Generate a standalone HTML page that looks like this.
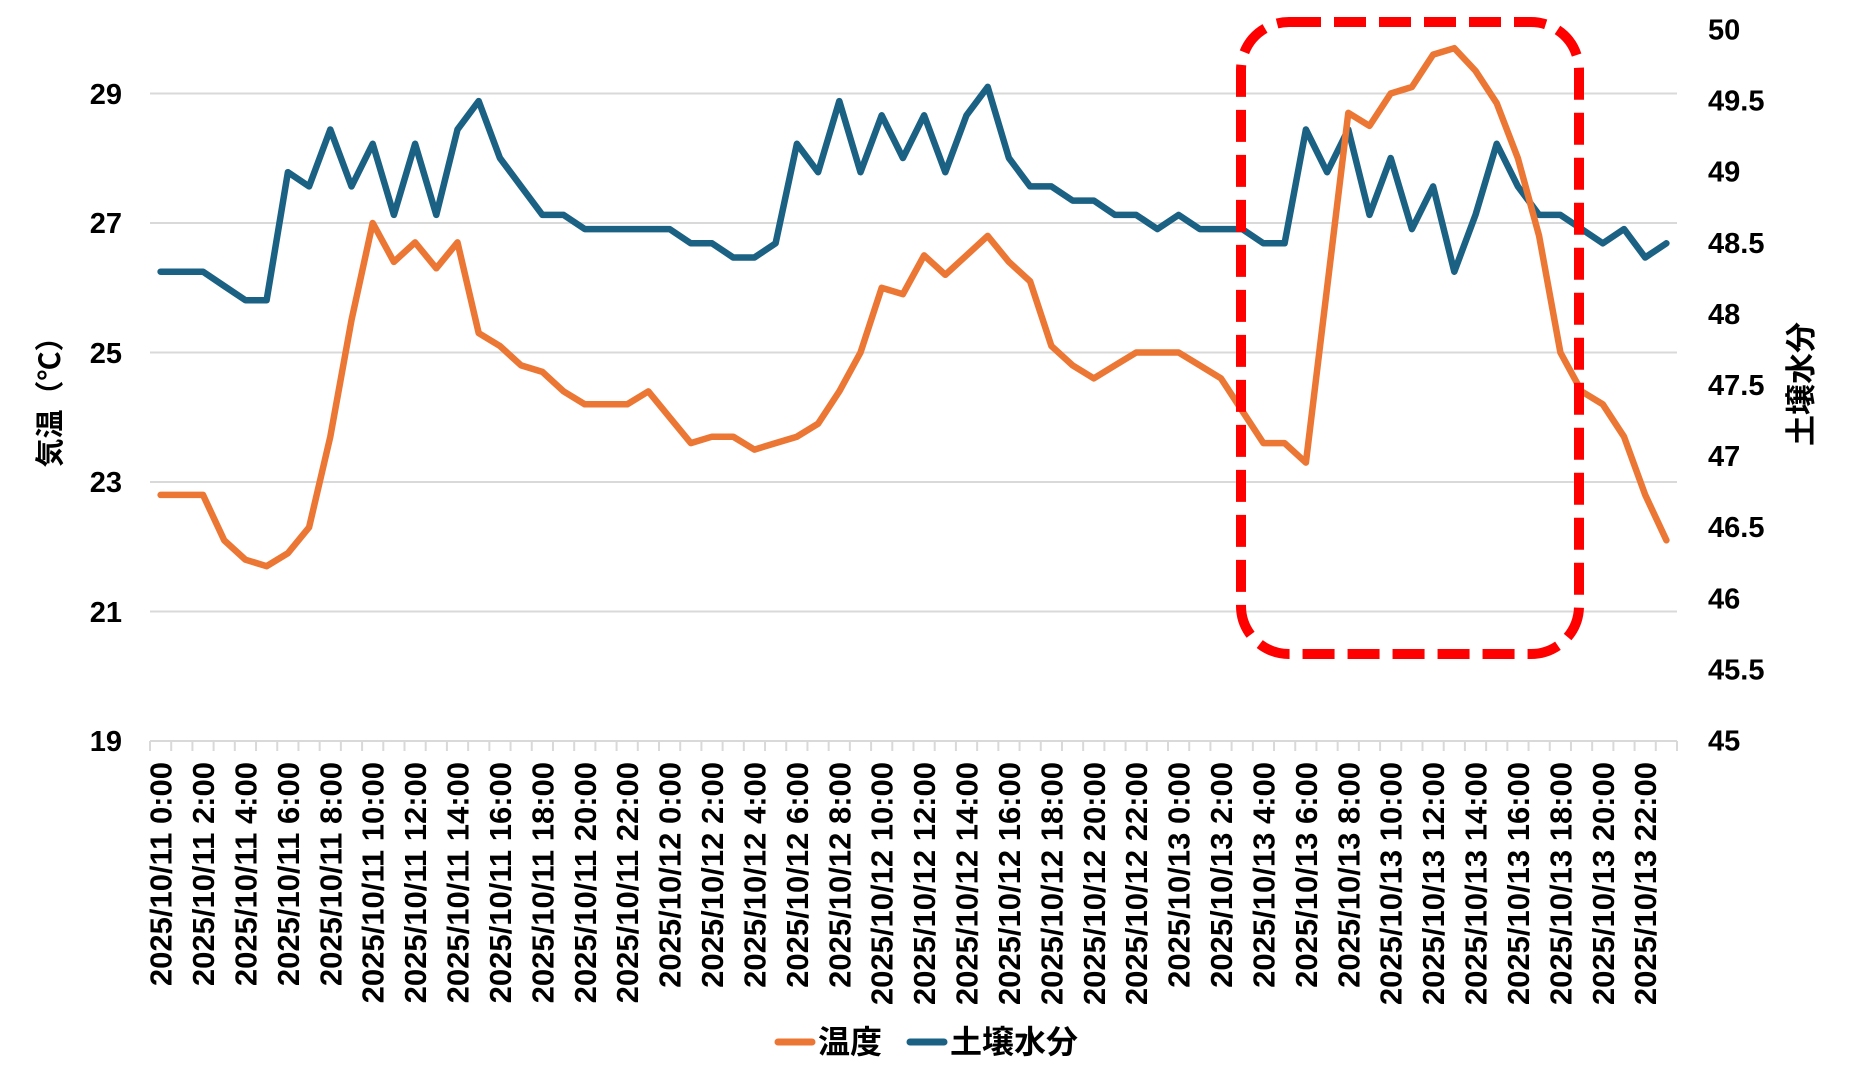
<!DOCTYPE html>
<html><head><meta charset="utf-8"><style>
html,body{margin:0;padding:0;background:#fff;}
svg text{font-family:"Liberation Sans","Noto Sans CJK JP",sans-serif;}
</style></head><body>
<svg id="c" width="1854" height="1080" viewBox="0 0 1854 1080" xmlns="http://www.w3.org/2000/svg">
<g stroke="#d9d9d9" stroke-width="2">
<line x1="150" y1="93.5" x2="1677" y2="93.5"/>
<line x1="150" y1="223" x2="1677" y2="223"/>
<line x1="150" y1="352.5" x2="1677" y2="352.5"/>
<line x1="150" y1="482" x2="1677" y2="482"/>
<line x1="150" y1="611.5" x2="1677" y2="611.5"/>
<line x1="150" y1="741" x2="1677" y2="741"/>
</g>
<g id="ticks" stroke="#d9d9d9" stroke-width="2"></g>
<g font-size="29" font-weight="bold" fill="#000" text-anchor="end">
<text x="122" y="104">29</text><text x="122" y="233">27</text><text x="122" y="363">25</text>
<text x="122" y="492">23</text><text x="122" y="622">21</text><text x="122" y="751">19</text>
</g>
<g id="rlab" font-size="29" font-weight="bold" fill="#000" text-anchor="start"></g>
<text transform="translate(60,395) rotate(-90)" font-size="29" font-weight="bold" text-anchor="middle" fill="#000">気温（℃）</text>
<text transform="translate(1812,384) rotate(-90)" font-size="31" font-weight="bold" text-anchor="middle" fill="#000">土壌水分</text>
<g id="xlab" font-size="31" font-weight="bold" fill="#000" text-anchor="end"></g>
<polyline id="mo" fill="none" stroke="#1a6184" stroke-width="6.5" stroke-linejoin="round" stroke-linecap="round"/>
<polyline id="te" fill="none" stroke="#ec7634" stroke-width="6.5" stroke-linejoin="round" stroke-linecap="round"/>
<rect x="1241" y="22" width="338" height="632" rx="48" ry="48" fill="none" stroke="#ff0000" stroke-width="10" stroke-dasharray="32 13"/>
<line x1="778" y1="1042" x2="812" y2="1042" stroke="#ec7634" stroke-width="7" stroke-linecap="round"/>
<text x="818" y="1053" font-size="32" font-weight="bold" fill="#000">温度</text>
<line x1="910" y1="1042" x2="944" y2="1042" stroke="#1a6184" stroke-width="7" stroke-linecap="round"/>
<text x="950" y="1053" font-size="32" font-weight="bold" fill="#000">土壌水分</text>
</svg>
<script>
var T=[22.8,22.8,22.8,22.1,21.8,21.7,21.9,22.3,23.7,25.5,27.0,26.4,26.7,26.3,26.7,25.3,25.1,24.8,24.7,24.4,24.2,24.2,24.2,24.4,24.0,23.6,23.7,23.7,23.5,23.6,23.7,23.9,24.4,25.0,26.0,25.9,26.5,26.2,26.5,26.8,26.4,26.1,25.1,24.8,24.6,24.8,25.0,25.0,25.0,24.8,24.6,24.1,23.6,23.6,23.3,26.0,28.7,28.5,29.0,29.1,29.6,29.7,29.35,28.85,28.0,26.8,25.0,24.4,24.2,23.7,22.8,22.1];
var M=[48.3,48.3,48.3,48.2,48.1,48.1,49.0,48.9,49.3,48.9,49.2,48.7,49.2,48.7,49.3,49.5,49.1,48.9,48.7,48.7,48.6,48.6,48.6,48.6,48.6,48.5,48.5,48.4,48.4,48.5,49.2,49.0,49.5,49.0,49.4,49.1,49.4,49.0,49.4,49.6,49.1,48.9,48.9,48.8,48.8,48.7,48.7,48.6,48.7,48.6,48.6,48.6,48.5,48.5,49.3,49.0,49.3,48.7,49.1,48.6,48.9,48.3,48.7,49.2,48.9,48.7,48.7,48.6,48.5,48.6,48.4,48.5];
var ns="http://www.w3.org/2000/svg",w=(1677-150)/72;
function X(i){return 150+w*(i+0.5);}
var pt=[],pm=[];
for(var i=0;i<72;i++){pt.push(X(i).toFixed(1)+","+(93.5+(29-T[i])*64.75).toFixed(1));pm.push(X(i).toFixed(1)+","+(741-(M[i]-45)*142.2).toFixed(1));}
document.getElementById("te").setAttribute("points",pt.join(" "));
document.getElementById("mo").setAttribute("points",pm.join(" "));
var tg=document.getElementById("ticks");
for(var i=0;i<=72;i++){var l=document.createElementNS(ns,"line");var x=150+w*i;l.setAttribute("x1",x);l.setAttribute("x2",x);l.setAttribute("y1",741);l.setAttribute("y2",751);tg.appendChild(l);}
var xg=document.getElementById("xlab");
for(var k=0;k<36;k++){var h=2*k,d=11+Math.floor(h/24),hh=h%24;var t=document.createElementNS(ns,"text");var x=X(h)+11;t.setAttribute("transform","translate("+x.toFixed(1)+",762) rotate(-90)");t.textContent="2025/10/"+d+" "+hh+":00";xg.appendChild(t);}
var rg=document.getElementById("rlab");
var rv=["50","49.5","49","48.5","48","47.5","47","46.5","46","45.5","45"];
for(var k=0;k<11;k++){var t=document.createElementNS(ns,"text");t.setAttribute("x",1708);t.setAttribute("y",(29+k*71.1+10.5).toFixed(1));t.textContent=rv[k];rg.appendChild(t);}
</script>
</body></html>
